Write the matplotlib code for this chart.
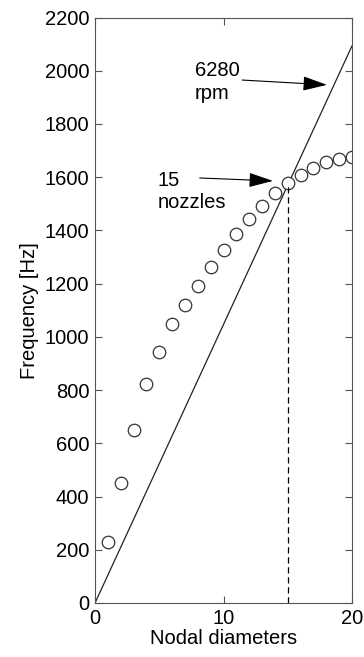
import matplotlib.pyplot as plt
import numpy as np

plt.rcParams['font.family'] = ['Liberation Sans', 'DejaVu Sans']

# natural frequencies per nodal diameter
nodal = np.arange(1, 21)
freq = [230, 450, 650, 822, 945, 1048, 1118, 1190, 1262, 1328,
        1388, 1442, 1492, 1540, 1578, 1608, 1636, 1657, 1667, 1674]

# engine order line for 6280 rpm
rpm = 6280
line_x = [0, 20]
line_y = [0, 20 * rpm / 60]

nozzles = 15
cross_f = nozzles * rpm / 60

fs = 14.5

fig = plt.figure(figsize=(3.64, 6.57), dpi=100)
ax = fig.add_axes([95 / 364, 1 - 603 / 657, 257 / 364, 585.5 / 657])

ax.plot(line_x, line_y, color='#222222', lw=0.9)
ax.plot(nodal, freq, 'o', mfc='white', mec='#333333', ms=9, mew=0.9)
ax.plot([nozzles, nozzles], [0, cross_f], '--', color='black', lw=0.9, dashes=(5, 3))

arrow = dict(arrowstyle='-|>,head_length=1.5,head_width=0.45', color='black', lw=0.8,
             shrinkA=0, shrinkB=0)
ax.annotate('', xy=(18.05, 1947), xytext=(11.45, 1965), arrowprops=arrow)
ax.annotate('', xy=(13.85, 1586), xytext=(8.15, 1597), arrowprops=arrow)
ax.text(7.75, 2035, '6280\nrpm', fontsize=fs, va='top', ha='left', linespacing=1.25)
ax.text(4.85, 1625, '15\nnozzles', fontsize=fs, va='top', ha='left', linespacing=1.25)

ax.set_xlim(0, 20)
ax.set_ylim(0, 2200)
ax.set_xticks([0, 10, 20])
ax.set_yticks(range(0, 2201, 200))
ax.tick_params(direction='in', top=True, right=True, labelsize=fs, length=5,
               color='#555555', pad=4)
for s in ax.spines.values():
    s.set_color('#555555')
ax.set_xlabel('Nodal diameters', fontsize=fs, labelpad=1)
ax.set_ylabel('Frequency [Hz]', fontsize=fs, labelpad=4)

fig.savefig('out.png', dpi=100)
